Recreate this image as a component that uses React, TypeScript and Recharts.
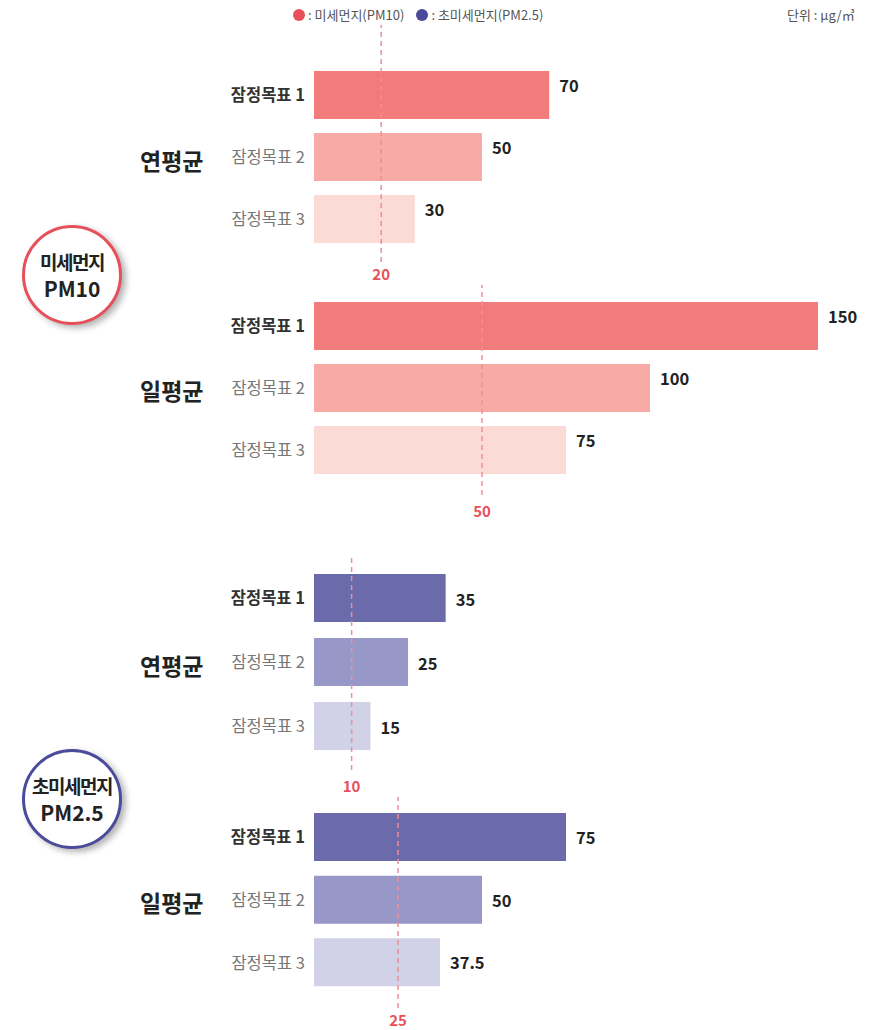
import React from "react";
import { BarChart, Bar, XAxis, YAxis, Cell, LabelList, ReferenceLine } from "recharts";

const targets = ["잠정목표 1", "잠정목표 2", "잠정목표 3"];
const pm10Annual = [70, 50, 30];
const pm10Daily = [150, 100, 75];
const pm25Annual = [35, 25, 15];
const pm25Daily = [75, 50, 37.5];
const guideline = [20, 50, 10, 25];
const periodLabels = ["연평균", "일평균", "연평균", "일평균"];

const redShades = ["#f27b7b", "#f7aaa6", "#fcdbd7"];
const blueShades = ["#6b6bab", "#9898c8", "#d1d1e7"];

const FONT = "'Noto Sans CJK KR', 'Noto Sans', sans-serif";

// layout of each group block (chart top, height, padding of the category band)
const blocks = [
  { top: 20, height: 270, padTop: 39, padBottom: 12, mb: 28, lblOff: 7, valDy: 21, max: 150, values: pm10Annual, colors: redShades },
  { top: 280, height: 245, padTop: 10, padBottom: 14, mb: 30, lblOff: 11, valDy: 21, max: 150, values: pm10Daily, colors: redShades },
  { top: 550, height: 250, padTop: 11, padBottom: 12, mb: 30, lblOff: 11, valDy: 32, max: 134, values: pm25Annual, colors: blueShades },
  { top: 792, height: 238, padTop: 9, padBottom: 14, mb: 22, lblOff: 7, valDy: 31, max: 150, values: pm25Daily, colors: blueShades },
];

const TargetTick = (props: any) => {
  const { x, y, payload } = props;
  const first = payload.index === 0;
  return (
    <text
      x={x}
      y={y}
      dy={6}
      textAnchor="end"
      fontFamily={FONT}
      fontSize={16.5}
      fontWeight={first ? 700 : 400}
      fill={first ? "#333" : "#777"}
    >
      {payload.value}
    </text>
  );
};

const makeValueLabel = (dy: number) => (props: any) => {
  const { x, y, width, value } = props;
  return (
    <text
      x={x + width + 10}
      y={y + dy}
      fontFamily={FONT}
      fontSize={16.5}
      fontWeight={700}
      fill="#222"
    >
      {value}
    </text>
  );
};

const GroupChart = ({ idx }: { idx: number }) => {
  const b = blocks[idx];
  const data = targets.map((t, i) => ({ name: t, value: b.values[i] }));
  const ValueLabel = makeValueLabel(b.valDy);
  return (
    <div style={{ position: "absolute", left: 0, top: b.top }}>
      <BarChart
        width={888}
        height={b.height}
        data={data}
        layout="vertical"
        margin={{ top: 5, right: 70, bottom: b.mb, left: 0 }}
      >
        <XAxis type="number" domain={[0, b.max]} hide />
        <YAxis
          type="category"
          dataKey="name"
          width={314}
          axisLine={false}
          tickLine={false}
          tickSize={9}
          tickMargin={0}
          padding={{ top: b.padTop, bottom: b.padBottom }}
          tick={<TargetTick />}
        />
        <ReferenceLine
          x={guideline[idx]}
          stroke="#f38d95"
          strokeWidth={1.5}
          strokeDasharray="5 4"
          label={{
            value: guideline[idx],
            position: "bottom",
            offset: b.lblOff,
            fill: "#e8505b",
            fontSize: 15,
            fontWeight: 700,
            fontFamily: FONT,
          }}
        />
        <Bar dataKey="value" barSize={48} isAnimationActive={false}>
          {data.map((d, i) => (
            <Cell key={d.name} fill={b.colors[i]} />
          ))}
          <LabelList dataKey="value" content={<ValueLabel />} />
        </Bar>
      </BarChart>
    </div>
  );
};

const Badge = ({ top, color, line1, line2 }: { top: number; color: string; line1: string; line2: string }) => (
  <div
    style={{
      position: "absolute",
      left: 22,
      top,
      width: 94,
      height: 94,
      borderRadius: "50%",
      border: `3px solid ${color}`,
      background: "#fff",
      boxShadow: "4px 3px 6px rgba(0,0,0,0.3)",
      display: "flex",
      flexDirection: "column",
      alignItems: "center",
      justifyContent: "center",
      fontFamily: FONT,
      fontWeight: 700,
      color: "#222",
      lineHeight: "27px",
    }}
  >
    <div style={{ fontSize: 19, letterSpacing: -1.5 }}>{line1}</div>
    <div style={{ fontSize: 21 }}>{line2}</div>
  </div>
);

export default function App() {
  const periodY = [160, 390, 665, 902];
  return (
    <div
      style={{
        position: "absolute",
        left: 0,
        top: 0,
        width: 888,
        height: 1030,
        background: "#fff",
        fontFamily: FONT,
        overflow: "hidden",
      }}
    >
      {/* legend */}
      <div style={{ position: "absolute", top: 5, left: 293, fontSize: 13, color: "#555", display: "flex", alignItems: "center" }}>
        <span style={{ width: 12, height: 12, borderRadius: "50%", background: "#e8505b", display: "inline-block", marginRight: 3 }} />
        <span>: 미세먼지(PM10)</span>
        <span style={{ width: 12, height: 12, borderRadius: "50%", background: "#4a4a9a", display: "inline-block", marginLeft: 12, marginRight: 3 }} />
        <span>: 초미세먼지(PM2.5)</span>
      </div>
      <div style={{ position: "absolute", top: 5, left: 787, fontSize: 13, color: "#555" }}>단위 : μg/㎥</div>

      {blocks.map((_, i) => (
        <GroupChart key={i} idx={i} />
      ))}

      {periodLabels.map((p, i) => (
        <div
          key={i}
          style={{
            position: "absolute",
            left: 140,
            top: periodY[i] - 15,
            fontSize: 23,
            fontWeight: 700,
            color: "#222",
            lineHeight: "30px",
          }}
        >
          {p}
        </div>
      ))}

      <Badge top={225} color="#e6505a" line1="미세먼지" line2="PM10" />
      <Badge top={749} color="#4b4b9b" line1="초미세먼지" line2="PM2.5" />
    </div>
  );
}
